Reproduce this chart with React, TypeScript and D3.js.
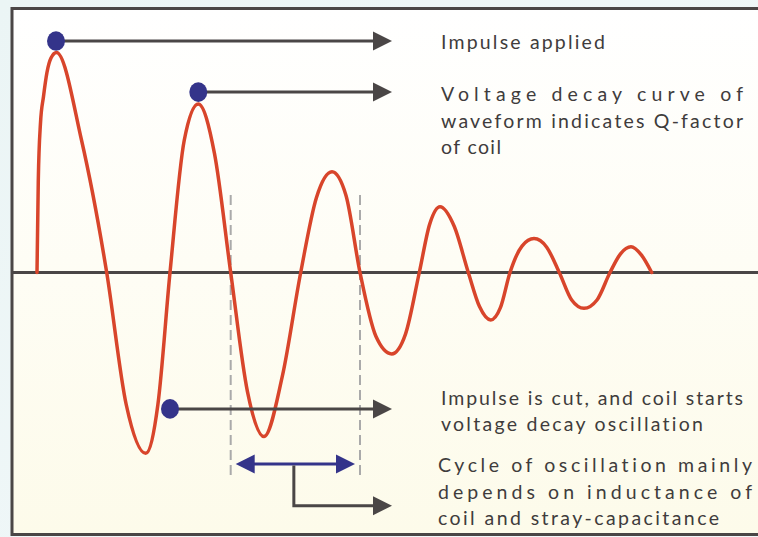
import React, { useRef, useEffect } from 'react';
import * as d3 from 'd3';

// Decaying oscillation (time in ns, voltage normalised to the first peak):
// extremes, zero crossings and one reading halfway along each quarter swing.
const timeNs = [0, 1.3, 3.5, 6.5, 10, 14, 19.5, 44.6, 69.7, 89.2, 108.7, 120.9, 133, 147.2, 161.3, 177.5, 193.7, 210.4, 227, 245.4, 263.7, 279.4, 295, 309, 323, 338.9, 354.7, 368.5, 382.3, 392.7, 403, 417.2, 431.3, 442.5, 453.7, 463.4, 473, 485, 497, 509.7, 522.3, 534.7, 547, 560, 573, 583.5, 594, 604.3, 614.7];
const voltage = [0, 0.42, 0.68, 0.8, 0.91, 0.975, 1.0, 0.6, 0, -0.6, -0.822, -0.6, 0, 0.6, 0.766, 0.54, 0, -0.54, -0.746, -0.47, 0, 0.34, 0.458, 0.35, 0, -0.29, -0.37, -0.28, 0, 0.22, 0.299, 0.21, 0, -0.155, -0.216, -0.16, 0, 0.12, 0.154, 0.115, 0, -0.125, -0.163, -0.125, 0, 0.085, 0.117, 0.08, 0];

// Annotation anchors (data coordinates).
const markerTimes = [19, 161.3, 133];
const markerVolts = [1.052, 0.82, -0.62];
const pointerEndTime = 355;
const cycleStart = 193.7;
const cycleEnd = 323;

const labelLines = [
  'Impulse applied',
  'Voltage decay curve of',
  'waveform indicates Q-factor',
  'of coil',
  'Impulse is cut, and coil starts',
  'voltage decay oscillation',
  'Cycle of oscillation mainly',
  'depends on inductance of',
  'coil and stray-capacitance',
];

const App = () => {
  const ref = useRef<SVGSVGElement>(null);

  useEffect(() => {
    const svg = d3.select(ref.current);
    svg.selectAll('*').remove();

    const W = 758;
    const H = 537;
    svg.attr('width', W).attr('height', H);

    const x = d3.scaleLinear().domain([0, 615]).range([37, 652]);
    const y = d3.scaleLinear().domain([-1, 1]).range([492.5, 52.5]);

    const curveRed = '#d8452b';
    const navy = '#34348a';
    const dark = '#4a4646';
    const dashGray = '#aaaaaa';

    const defs = svg.append('defs');
    const bg = defs.append('linearGradient').attr('id', 'bg').attr('x1', 0).attr('y1', 0).attr('x2', 0).attr('y2', 1);
    bg.append('stop').attr('offset', '0%').attr('stop-color', '#ffffff');
    bg.append('stop').attr('offset', '100%').attr('stop-color', '#fdfbea');

    const outer = defs.append('linearGradient').attr('id', 'outer').attr('x1', 0).attr('y1', 0).attr('x2', 1).attr('y2', 1);
    outer.append('stop').attr('offset', '0%').attr('stop-color', '#ebf5f5');
    outer.append('stop').attr('offset', '100%').attr('stop-color', '#f2f8fa');

    // outside background + framed panel
    svg.append('rect').attr('width', W).attr('height', H).attr('fill', 'url(#outer)');
    svg.append('rect')
      .attr('x', 12).attr('y', 8.5)
      .attr('width', W + 20).attr('height', 526)
      .attr('fill', 'url(#bg)')
      .attr('stroke', dark).attr('stroke-width', 3);

    // zero axis
    svg.append('line')
      .attr('x1', 12).attr('x2', W)
      .attr('y1', y(0)).attr('y2', y(0))
      .attr('stroke', dark).attr('stroke-width', 3);

    // dashed period markers
    [cycleStart, cycleEnd].forEach(t => {
      svg.append('line')
        .attr('x1', x(t)).attr('x2', x(t))
        .attr('y1', y(0.352)).attr('y2', y(-0.943))
        .attr('stroke', dashGray).attr('stroke-width', 2)
        .attr('stroke-dasharray', '10,5');
    });

    // waveform
    const data = timeNs.map((t, i) => ({ t, v: voltage[i] }));
    const line = d3.line<{ t: number; v: number }>()
      .x(d => x(d.t))
      .y(d => y(d.v))
      .curve(d3.curveMonotoneX);
    svg.append('path')
      .datum(data)
      .attr('d', line)
      .attr('fill', 'none')
      .attr('stroke', curveRed)
      .attr('stroke-width', 3.5)
      .attr('stroke-linecap', 'round')
      .attr('stroke-linejoin', 'round');

    // arrowhead helper
    const head = (tipX: number, tipY: number, dir: number, color: string) => {
      const len = 19;
      const half = 9.5;
      svg.append('path')
        .attr('d', `M${tipX},${tipY}L${tipX - dir * len},${tipY - half}L${tipX - dir * len},${tipY + half}Z`)
        .attr('fill', color);
    };

    // pointer lines from the dots
    const tipX = x(pointerEndTime);
    markerTimes.forEach((t, i) => {
      const cx = x(t);
      const cy = y(markerVolts[i]);
      svg.append('line')
        .attr('x1', cx).attr('x2', tipX - 15)
        .attr('y1', cy).attr('y2', cy)
        .attr('stroke', dark).attr('stroke-width', 3);
      head(tipX, cy, 1, dark);
      svg.append('ellipse')
        .attr('cx', cx).attr('cy', cy)
        .attr('rx', 9).attr('ry', 9.8)
        .attr('fill', navy);
    });

    // cycle double arrow + bracket
    const arrowY = y(-0.87);
    const ax1 = x(cycleStart) + 5;
    const ax2 = x(cycleEnd) - 5;
    svg.append('line')
      .attr('x1', ax1 + 10).attr('x2', ax2 - 10)
      .attr('y1', arrowY).attr('y2', arrowY)
      .attr('stroke', navy).attr('stroke-width', 3);
    head(ax1, arrowY, -1, navy);
    head(ax2, arrowY, 1, navy);

    const midX = (x(cycleStart) + x(cycleEnd)) / 2 - 1.5;
    const bracketY = y(-1.06);
    svg.append('path')
      .attr('d', `M${midX},${arrowY + 1.5}V${bracketY}H${tipX - 15}`)
      .attr('fill', 'none')
      .attr('stroke', dark).attr('stroke-width', 3);
    head(tipX, bracketY, 1, dark);

    // annotation texts
    const textPos = [
      { x: 441, y: 49, len: 164 },
      { x: 441, y: 101, len: 302 },
      { x: 441, y: 128, len: 302 },
      { x: 441, y: 154, len: 60 },
      { x: 441, y: 405, len: 302 },
      { x: 441, y: 431, len: 262 },
      { x: 438, y: 472, len: 314 },
      { x: 438, y: 498.5, len: 314 },
      { x: 438, y: 524.5, len: 281 },
    ];
    svg.append('g')
      .selectAll('text')
      .data(labelLines)
      .join('text')
      .attr('x', (d, i) => textPos[i].x)
      .attr('y', (d, i) => textPos[i].y)
      .attr('textLength', (d, i) => textPos[i].len)
      .attr('lengthAdjust', 'spacing')
      .style('font-family', '"Century Gothic", "URW Gothic", Lato, sans-serif')
      .style('font-size', '19.5px')
      .style('font-variant-ligatures', 'none')
      .style('fill', '#403c3c')
      .text(d => d);
  }, []);

  return <svg ref={ref} style={{ position: 'absolute', left: 0, top: 0, display: 'block' }}></svg>;
};

export default App;
